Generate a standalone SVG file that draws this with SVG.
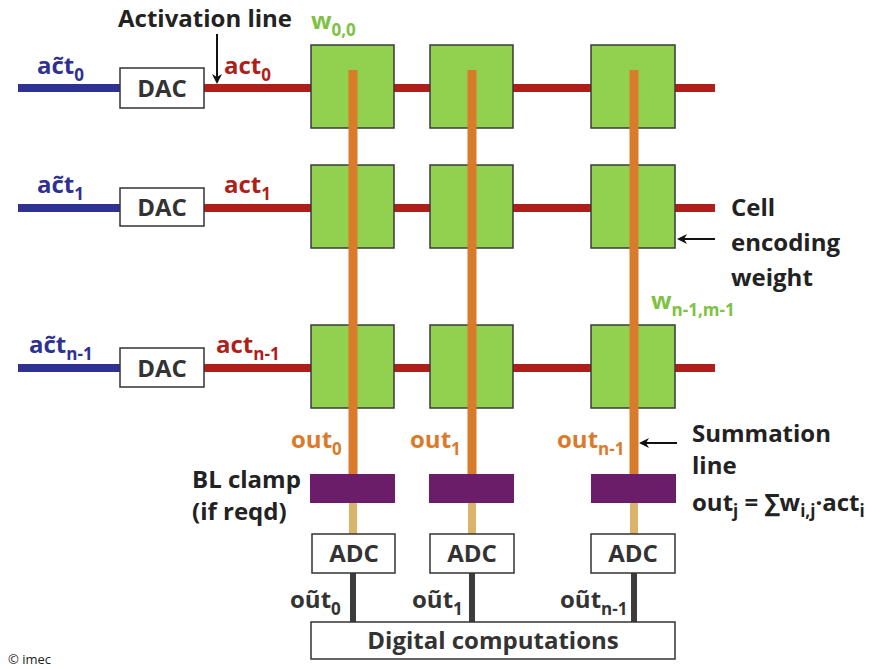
<svg xmlns="http://www.w3.org/2000/svg" width="888" height="669" viewBox="0 0 888 669">
<style>
text{font-family:"Open Sans","Noto Sans","DejaVu Sans",sans-serif;font-weight:bold}
.lbl{font-size:24px;fill:#222}
.box{fill:#fff;stroke:#333;stroke-width:1.5}
.boxt{font-size:24px;fill:#333;text-anchor:middle}
.cell{fill:#92d050;stroke:#3a3a3a;stroke-width:1.5}
.clamp{fill:#6c1d6a}
.blue{stroke:#2e3192;stroke-width:8}
.red{stroke:#b01e1a;stroke-width:8}
.orange{stroke:#d97b2a;stroke-width:9}
.tan{stroke:#d9b46a;stroke-width:8}
.gray{stroke:#3c3c3c;stroke-width:6}
.tb{fill:#2e3192;font-size:24px}
.tr{fill:#b01e1a;font-size:24px}
.tg{fill:#7dc242;font-size:24px}
.to{fill:#d97b2a;font-size:24px}
.tk{fill:#333;font-size:24px}
.sub{font-size:17px}
.arr{stroke:#111;stroke-width:2;fill:none}
</style>
<defs>
<marker id="ah" markerWidth="10" markerHeight="10" refX="8" refY="5" orient="auto" markerUnits="userSpaceOnUse">
<path d="M0,0 L10,5 L0,10 L3,5 Z" fill="#111"/>
</marker>
</defs>
<g id="connectors">
<line class="blue" x1="18" y1="88" x2="120" y2="88"/>
<line class="blue" x1="18" y1="208" x2="120" y2="208"/>
<line class="blue" x1="18" y1="368" x2="120" y2="368"/>
<line class="red" x1="204" y1="88" x2="715" y2="88"/>
<line class="red" x1="204" y1="208" x2="715" y2="208"/>
<line class="red" x1="204" y1="368" x2="715" y2="368"/>
</g>
<g id="cell-0-0"><rect class="cell" x="311" y="45" width="83" height="83"/></g>
<g id="cell-0-1"><rect class="cell" x="430" y="45" width="83" height="83"/></g>
<g id="cell-0-2"><rect class="cell" x="591" y="45" width="84" height="83"/></g>
<g id="cell-1-0"><rect class="cell" x="311" y="165" width="83" height="83"/></g>
<g id="cell-1-1"><rect class="cell" x="430" y="165" width="83" height="83"/></g>
<g id="cell-1-2"><rect class="cell" x="591" y="165" width="84" height="83"/></g>
<g id="cell-2-0"><rect class="cell" x="311" y="325" width="83" height="83"/></g>
<g id="cell-2-1"><rect class="cell" x="430" y="325" width="83" height="83"/></g>
<g id="cell-2-2"><rect class="cell" x="591" y="325" width="84" height="83"/></g>
<g id="summation-lines">
<line class="orange" x1="353" y1="70" x2="353" y2="474"/>
<line class="orange" x1="472" y1="70" x2="472" y2="474"/>
<line class="orange" x1="634" y1="70" x2="634" y2="474"/>
<line class="tan" x1="353" y1="503" x2="353" y2="534"/>
<line class="tan" x1="472" y1="503" x2="472" y2="534"/>
<line class="tan" x1="634" y1="503" x2="634" y2="534"/>
<line class="gray" x1="353" y1="573" x2="353" y2="622"/>
<line class="gray" x1="472" y1="573" x2="472" y2="622"/>
<line class="gray" x1="634" y1="573" x2="634" y2="622"/>
</g>
<g id="dac-0"><rect class="box" x="120" y="68" width="84" height="40"/><text class="boxt" x="162" y="97">DAC</text></g>
<g id="dac-1"><rect class="box" x="120" y="188" width="84" height="38"/><text class="boxt" x="162" y="216">DAC</text></g>
<g id="dac-2"><rect class="box" x="120" y="348" width="84" height="39"/><text class="boxt" x="162" y="377">DAC</text></g>
<g id="clamp-0"><rect class="clamp" x="310" y="474" width="85" height="29"/></g>
<g id="clamp-1"><rect class="clamp" x="429" y="474" width="85" height="29"/></g>
<g id="clamp-2"><rect class="clamp" x="591" y="474" width="85" height="29"/></g>
<g id="adc-0"><rect class="box" x="312" y="534" width="83" height="39"/><text class="boxt" x="354" y="562">ADC</text></g>
<g id="adc-1"><rect class="box" x="430" y="534" width="84" height="39"/><text class="boxt" x="472" y="562">ADC</text></g>
<g id="adc-2"><rect class="box" x="591" y="534" width="84" height="39"/><text class="boxt" x="633" y="562">ADC</text></g>
<g id="digital"><rect class="box" x="311" y="622" width="364" height="37"/><text class="boxt" x="493" y="649">Digital computations</text></g>
<g id="labels">
<text class="lbl" x="118" y="27">Activation line</text>
<line class="arr" x1="217" y1="34" x2="217" y2="82" marker-end="url(#ah)"/>
<text class="tb" x="37" y="74">ac&#771;t<tspan class="sub" dy="7">0</tspan></text>
<text class="tr" x="224" y="74">act<tspan class="sub" dy="7">0</tspan></text>
<text class="tb" x="37" y="193">ac&#771;t<tspan class="sub" dy="7">1</tspan></text>
<text class="tr" x="224" y="193">act<tspan class="sub" dy="7">1</tspan></text>
<text class="tb" x="29" y="353">ac&#771;t<tspan class="sub" dy="7">n-1</tspan></text>
<text class="tr" x="216" y="353">act<tspan class="sub" dy="7">n-1</tspan></text>
<text class="tg" x="311" y="29">w<tspan class="sub" dy="7">0,0</tspan></text>
<text class="tg" x="651" y="309">w<tspan class="sub" dy="7">n-1,m-1</tspan></text>
<text class="lbl" x="731" y="216">Cell</text>
<text class="lbl" x="731" y="251">encoding</text>
<text class="lbl" x="731" y="286">weight</text>
<line class="arr" x1="715" y1="239" x2="679" y2="239" marker-end="url(#ah)"/>
<text class="to" x="291" y="448">out<tspan class="sub" dy="7">0</tspan></text>
<text class="to" x="410" y="448">out<tspan class="sub" dy="7">1</tspan></text>
<text class="to" x="557" y="448">out<tspan class="sub" dy="7">n-1</tspan></text>
<line class="arr" x1="677" y1="443" x2="641" y2="443" marker-end="url(#ah)"/>
<text class="lbl" x="692" y="442">Summation</text>
<text class="lbl" x="692" y="474">line</text>
<text class="lbl" x="692" y="511">out<tspan class="sub" dy="6">j</tspan><tspan dy="-6"> = ∑w</tspan><tspan class="sub" dy="6">i,j</tspan><tspan dy="-6">·act</tspan><tspan class="sub" dy="6">i</tspan></text>
<text class="lbl" x="192" y="488">BL clamp</text>
<text class="lbl" x="192" y="520">(if reqd)</text>
<text class="tk" x="290" y="608">ou&#771;t<tspan class="sub" dy="7">0</tspan></text>
<text class="tk" x="412" y="608">ou&#771;t<tspan class="sub" dy="7">1</tspan></text>
<text class="tk" x="560" y="608">ou&#771;t<tspan class="sub" dy="7">n-1</tspan></text>
<text x="8" y="664" style="font-weight:normal;font-size:13px;fill:#222">© imec</text>
</g>
</svg>
